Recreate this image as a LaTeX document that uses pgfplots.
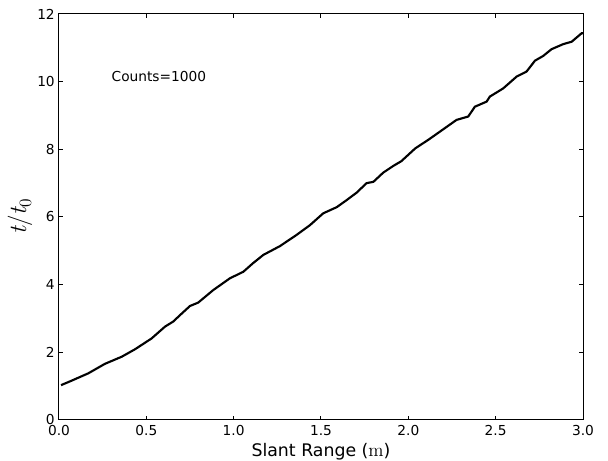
\documentclass[border=0pt]{standalone}
\usepackage[no-math]{fontspec}
\setmainfont{DejaVu Sans}
\newfontfamily\lmr{Latin Modern Roman}
\usepackage{pgfplots}
\pgfplotsset{compat=1.18}
\begin{document}
\begin{tikzpicture}
\useasboundingbox (-44.25pt,-30.75pt) rectangle (411.75pt,315pt);
\begin{axis}[
  scale only axis,
  width=393pt, height=304.5pt,
  at={(0,0)}, anchor=south west,
  xmin=0, xmax=3, ymin=0, ymax=12,
  xtick={0,0.5,...,3}, ytick={0,2,...,12},
  xticklabel style={/pgf/number format/fixed,/pgf/number format/fixed zerofill,/pgf/number format/precision=1, anchor=base, inner sep=0pt, yshift=-12pt},
  yticklabel style={anchor=east, inner sep=0pt, xshift=-3pt},
  /pgf/number format/assume math mode=true,
  tick label style={font=\fontsize{10.3}{12}\selectfont},
  tick align=inside,
  major tick length=3pt,
  axis line style={line width=0.75pt},
  every tick/.style={black, line width=0.75pt},
  every axis x label/.style={at={(axis description cs:0.5,0)}, anchor=base, yshift=-27.75pt, font=\fontsize{13}{15}\selectfont},
  every axis y label/.style={at={(axis description cs:-0.0744,0.5)}, rotate=90, anchor=center, inner sep=0pt, font=\fontsize{18.5}{20}\selectfont},
  xlabel={Slant Range ({\lmr\fontsize{14}{16}\selectfont m})},
  ylabel={{\lmr\itshape t}{\lmr /}{\lmr\itshape t}\raisebox{-0.2em}{\lmr\fontsize{13}{15}\selectfont 0}},
  clip=false,
]
\addplot[black, line width=1.6pt] coordinates {
(0.012,1.03) (0.08,1.18) (0.168,1.38) (0.263,1.66) (0.359,1.87) (0.435,2.09)
(0.53,2.41) (0.607,2.76) (0.654,2.91) (0.693,3.10) (0.75,3.37) (0.797,3.47)
(0.883,3.84) (0.979,4.19) (1.055,4.38) (1.112,4.64) (1.17,4.88) (1.265,5.14)
(1.36,5.47) (1.437,5.76) (1.513,6.11) (1.59,6.29) (1.647,6.50) (1.704,6.72)
(1.761,7.0) (1.80,7.04) (1.856,7.31) (1.914,7.51) (1.96,7.65) (2.04,8.03)
(2.114,8.28) (2.18,8.52) (2.276,8.87) (2.343,8.97) (2.381,9.26) (2.448,9.41)
(2.467,9.56) (2.543,9.80) (2.62,10.15) (2.677,10.30) (2.725,10.62) (2.772,10.76)
(2.82,10.96) (2.887,11.11) (2.935,11.18) (2.992,11.43) (3.0,11.43)
};
\node[anchor=base west, inner sep=0pt, font=\fontsize{10.3}{12}\selectfont] at (axis cs:0.3,10) {Counts=1000};
\end{axis}
\end{tikzpicture}
\end{document}
